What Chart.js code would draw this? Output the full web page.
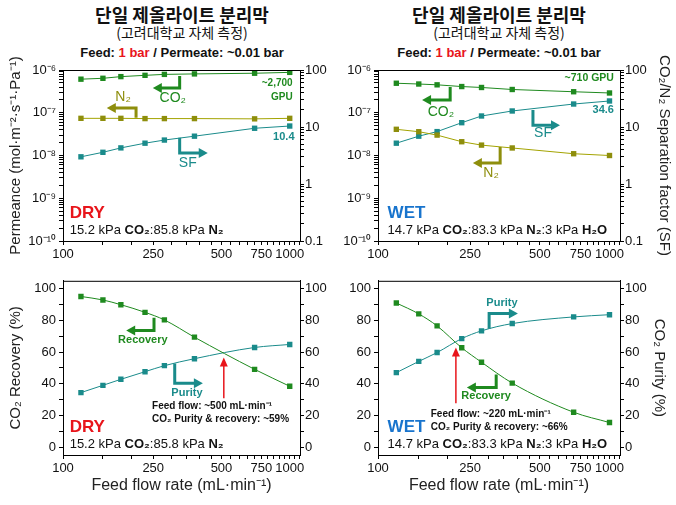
<!DOCTYPE html>
<html>
<head>
<meta charset="utf-8">
<script src="https://cdn.jsdelivr.net/npm/chart.js@4.4.1/dist/chart.umd.min.js"></script>
<style>
  body { margin: 0; background: #fff; }
  #wrap { position: relative; width: 676px; height: 505px; background: #fff; overflow: hidden; }
  canvas { position: absolute; }
  .ttl { position: absolute; width: 300px; text-align: center; color: #111; white-space: nowrap; }
  .kr1 { font: bold 18px "Noto Sans CJK KR", sans-serif; line-height: 20px; top: 4px; }
  .kr2 { font: 14px "Noto Sans CJK KR", sans-serif; line-height: 16px; top: 24px; }
  .feed { font: bold 13px "Liberation Sans", Arial, sans-serif; line-height: 16px; top: 45px; }
  .feed span { color: #e8151b; }
</style>
</head>
<body>
<div id="wrap">
  <div class="ttl kr1" style="left:32px">단일 제올라이트 분리막</div>
  <div class="ttl kr2" style="left:32px">(고려대학교 자체 측정)</div>
  <div class="ttl feed" style="left:32px">Feed: <span>1 bar</span> / Permeate: ~0.01 bar</div>
  <div class="ttl kr1" style="left:349px">단일 제올라이트 분리막</div>
  <div class="ttl kr2" style="left:349px">(고려대학교 자체 측정)</div>
  <div class="ttl feed" style="left:349px">Feed: <span>1 bar</span> / Permeate: ~0.01 bar</div>

  <canvas id="permDry" width="338" height="230" style="left:0;top:40px"></canvas>
  <canvas id="permWet" width="338" height="230" style="left:338px;top:40px"></canvas>
  <canvas id="recDry" width="338" height="235" style="left:0;top:270px"></canvas>
  <canvas id="recWet" width="338" height="235" style="left:338px;top:270px"></canvas>
</div>
<script>
"use strict";

/* feed flow rate (mL/min) */
const flowRate = [120, 150, 180, 230, 280, 380, 700, 1000];

/* permeance (mol m-2 s-1 Pa-1) en separation factor, DRY */
const co2Dry = [6.1e-7, 6.4e-7, 7.0e-7, 7.5e-7, 7.9e-7, 8.1e-7, 8.4e-7, 8.8e-7];
const n2Dry = [7.4e-8, 7.4e-8, 7.4e-8, 7.3e-8, 7.3e-8, 7.3e-8, 7.2e-8, 7.4e-8];
const sfDry = [3.0, 3.6, 4.3, 5.2, 5.9, 6.9, 9.5, 10.4];

/* WET */
const co2Wet = [4.9e-7, 4.7e-7, 4.5e-7, 4.1e-7, 3.9e-7, 3.5e-7, 3.1e-7, 2.9e-7];
const n2Wet = [4.1e-8, 3.6e-8, 3.0e-8, 2.1e-8, 1.75e-8, 1.5e-8, 1.1e-8, 1.0e-8];
const sfWet = [5.2, 6.9, 8.3, 11.9, 15.6, 19.1, 25.3, 28.6];

/* CO2 recovery / purity (%) */
const recoveryDry = [95.1, 92.9, 89.9, 85.1, 80.3, 69.4, 49.1, 38.4];
const purityDry = [34.4, 39.0, 42.8, 47.6, 51.4, 55.8, 62.9, 64.8];
const recoveryWet = [91.0, 84.1, 76.5, 62.7, 53.6, 40.4, 22.0, 15.5];
const purityWet = [47.0, 54.1, 59.7, 68.5, 73.4, 78.0, 82.2, 83.6];

/* tick labels */
const flowLabels = [100, 250, 500, 750, 1000];
const sfLabels = [0.1, 1, 10, 100];
const pctLabels = [0, 20, 40, 60, 80, 100];

/* tick positions (incl. minor ticks) */
const flowTicks = [];
for (let v = 100; v <= 1100; v += 50) flowTicks.push(v);
const permTicks = [];
for (let e = -10; e < -6; e++) for (let m = 1; m < 10; m++) permTicks.push(m * Math.pow(10, e));
permTicks.push(1e-6);
const sfTicks = [];
for (let e = -1; e < 2; e++) for (let m = 1; m < 10; m++) sfTicks.push(m * Math.pow(10, e));
sfTicks.push(100);
const pctTicks = [];
for (let v = 0; v <= 100; v += 10) pctTicks.push(v);

const GREEN = '#1f8a1f';
const OLIVE = '#8e8e0c';
const TEAL = '#1a8b8b';
const RED = '#e8151b';
const BLUE = '#1874cd';

Chart.defaults.font.family = '"Liberation Sans", Arial, sans-serif';
Chart.defaults.color = '#111';

const SUP = { '-': '⁻', '0': '⁰', '1': '¹', '2': '²', '3': '³', '4': '⁴', '5': '⁵', '6': '⁶', '7': '⁷', '8': '⁸', '9': '⁹' };
function pow10Label(v) {
    const e = Math.round(Math.log10(v));
    if (Math.abs(Math.log10(v) - e) > 1e-9) return '';
    return '10' + String(e).split('').map(c => SUP[c]).join('');
}
function near(list, v) {
    return list.some(l => Math.abs(l - v) < 1e-9 * Math.max(1, Math.abs(l)));
}

/* kader rond het plotgebied */
const framePlugin = {
    id: 'frame',
    afterDraw(chart) {
        const a = chart.chartArea;
        const ctx = chart.ctx;
        ctx.save();
        ctx.strokeStyle = '#000';
        ctx.lineWidth = 1;
        ctx.strokeRect(a.left + 0.5, a.top + 0.5, a.right - a.left, a.bottom - a.top);
        ctx.restore();
    }
};

/* pijlen en teksten in het plotgebied, geplaatst in data-coordinaten */
const notesPlugin = {
    id: 'notes',
    afterDatasetsDraw(chart, args, opts) {
        const ctx = chart.ctx;
        const xs = chart.scales.x;
        const ys = chart.scales.y;
        ctx.save();
        (opts.items || []).forEach(n => {
            const px = xs.getPixelForValue(n.x);
            if (n.kind === 'elbow') {
                const y1 = ys.getPixelForValue(n.y1);
                const y2 = ys.getPixelForValue(n.y2);
                const x2 = xs.getPixelForValue(n.x2);
                const dir = x2 > px ? 1 : -1;
                ctx.strokeStyle = n.color;
                ctx.fillStyle = n.color;
                ctx.lineWidth = 3;
                ctx.lineJoin = 'miter';
                ctx.beginPath();
                ctx.moveTo(px, y1);
                ctx.lineTo(px, y2);
                ctx.lineTo(x2 - dir * 8, y2);
                ctx.stroke();
                ctx.beginPath();
                ctx.moveTo(x2, y2);
                ctx.lineTo(x2 - dir * 9, y2 - 5);
                ctx.lineTo(x2 - dir * 9, y2 + 5);
                ctx.closePath();
                ctx.fill();
            } else if (n.kind === 'up') {
                const y1 = ys.getPixelForValue(n.y1);
                const y2 = ys.getPixelForValue(n.y2);
                ctx.strokeStyle = RED;
                ctx.fillStyle = RED;
                ctx.lineWidth = 1.5;
                ctx.beginPath();
                ctx.moveTo(px, y1);
                ctx.lineTo(px, y2 + 7);
                ctx.stroke();
                ctx.beginPath();
                ctx.moveTo(px, y2);
                ctx.lineTo(px - 4, y2 + 9);
                ctx.lineTo(px + 4, y2 + 9);
                ctx.closePath();
                ctx.fill();
            } else {
                const py = ys.getPixelForValue(n.y);
                const runs = n.runs || [[n.text, n.bold]];
                const fontOf = b => (b ? 'bold ' : '') + n.size + 'px "Liberation Sans", Arial, sans-serif';
                let w = 0;
                runs.forEach(r => { ctx.font = fontOf(r[1]); w += ctx.measureText(r[0]).width; });
                let x = n.align === 'right' ? px - w : n.align === 'left' ? px : px - w / 2;
                ctx.fillStyle = n.color;
                ctx.textBaseline = 'middle';
                ctx.textAlign = 'left';
                runs.forEach(r => {
                    ctx.font = fontOf(r[1]);
                    ctx.fillText(r[0], x, py);
                    x += ctx.measureText(r[0]).width;
                });
            }
        });
        ctx.restore();
    }
};

function flowPoints(vals) {
    return flowRate.map((x, i) => ({ x: x, y: vals[i] }));
}

function series(label, vals, color, axis, smooth) {
    return {
        label: label,
        data: flowPoints(vals),
        yAxisID: axis,
        borderColor: color,
        backgroundColor: color,
        borderWidth: 1,
        pointStyle: 'rect',
        pointRadius: 3.8,
        pointBorderWidth: 0,
        tension: smooth ? 0.4 : 0,
        cubicInterpolationMode: smooth ? 'monotone' : 'default'
    };
}

function axisTitle(text, padding) {
    return { display: true, text: text, color: '#222', font: { size: 15 }, padding: padding };
}

function flowAxis(height, title) {
    return {
        type: 'logarithmic',
        min: 100,
        max: 1110,
        afterBuildTicks: s => { s.ticks = flowTicks.map(v => ({ value: v })); },
        afterFit: s => { s.height = height; },
        grid: { drawOnChartArea: false, color: '#000', tickLength: 4 },
        border: { color: '#000' },
        ticks: {
            autoSkip: false, maxRotation: 0, minRotation: 0, padding: 2,
            color: '#111', font: { size: 13 },
            callback: v => flowLabels.includes(v) ? String(v) : ''
        },
        title: title ? { display: true, text: title, color: '#222', font: { size: 16 }, padding: { top: 0, bottom: 10 } } : { display: false }
    };
}

function valueAxis(pos, type, min, max, tickList, labelFn, width, title) {
    return {
        type: type,
        position: pos,
        min: min,
        max: max,
        afterBuildTicks: s => { s.ticks = tickList.map(v => ({ value: v })); },
        afterFit: s => { s.width = width; },
        grid: { drawOnChartArea: false, color: '#000', tickLength: 4 },
        border: { color: '#000' },
        ticks: { autoSkip: false, padding: pos === 'left' ? 3 : 1, color: '#111', font: { size: 13 }, callback: labelFn },
        title: title || { display: false }
    };
}

const permLabel = v => pow10Label(v);
const sfLabel = v => near(sfLabels, v) ? String(v) : '';
const pctLabel = v => pctLabels.includes(v) ? String(v) : '';

function makePanel(id, datasets, scales, notes, padTop) {
    new Chart(document.getElementById(id), {
        type: 'line',
        data: { datasets: datasets },
        options: {
            responsive: false,
            animation: false,
            devicePixelRatio: 1,
            layout: { padding: { top: padTop, left: 0, right: 0, bottom: 0 } },
            scales: scales,
            plugins: { legend: { display: false }, tooltip: { enabled: false }, notes: { items: notes } }
        },
        plugins: [framePlugin, notesPlugin]
    });
}

const compDry = [['15.2 kPa ', false], ['CO₂', true], [':85.8 kPa ', false], ['N₂', true]];
const compWet = [['14.7 kPa ', false], ['CO₂', true], [':83.3 kPa ', false], ['N₂', true], [':3 kPa ', false], ['H₂O', true]];
const purityDryNote = [['CO₂ Purity & recovery: ~59%', true]];
const purityWetNote = [['CO₂ Purity & recovery: ~66%', true]];

/* permeance DRY */
makePanel('permDry', [
    series('CO2', co2Dry, GREEN, 'y', false),
    Object.assign(series('N2', n2Dry, OLIVE, 'y', false), { borderColor: '#a3a300' }),
    series('SF', sfDry, TEAL, 'y2', false)
], {
    x: flowAxis(29),
    y: valueAxis('left', 'logarithmic', 1e-10, 1e-6, permTicks, permLabel, 63, axisTitle('Permeance (mol·m⁻²·s⁻¹·Pa⁻¹)', { top: 7, bottom: 0 })),
    y2: valueAxis('right', 'logarithmic', 0.1, 100, sfTicks, sfLabel, 38)
}, [
    { kind: 'elbow', x: 327, y1: 7.2e-7, y2: 3.8e-7, x2: 249, color: GREEN },
    { x: 305, y: 2.2e-7, text: 'CO₂', size: 14, color: GREEN },
    { kind: 'elbow', x: 210, y1: 7.6e-8, y2: 1.3e-7, x2: 156, color: OLIVE },
    { x: 184, y: 2.3e-7, text: 'N₂', size: 14, color: OLIVE },
    { kind: 'elbow', x: 327, y1: 2.6e-8, y2: 1.15e-8, x2: 435, color: TEAL },
    { x: 355, y: 6.7e-9, text: 'SF', size: 14, color: TEAL },
    { x: 1030, y: 5e-7, text: '~2,700', bold: true, size: 10, color: GREEN, align: 'right' },
    { x: 1030, y: 2.3e-7, text: 'GPU', bold: true, size: 10, color: GREEN, align: 'right' },
    { x: 1050, y: 2.7e-8, text: '10.4', bold: true, size: 11, color: TEAL, align: 'right' },
    { x: 107, y: 4.5e-10, text: 'DRY', bold: true, size: 17, color: RED, align: 'left' },
    { x: 107, y: 1.8e-10, runs: compDry, size: 13, color: '#111', align: 'left' }
], 30);

/* permeance WET */
makePanel('permWet', [
    series('CO2', co2Wet, GREEN, 'y', false),
    Object.assign(series('N2', n2Wet, OLIVE, 'y', false), { borderColor: '#a3a300' }),
    series('SF', sfWet, TEAL, 'y2', false)
], {
    x: flowAxis(29),
    y: valueAxis('left', 'logarithmic', 1e-10, 1e-6, permTicks, permLabel, 40),
    y2: valueAxis('right', 'logarithmic', 0.1, 100, sfTicks, sfLabel, 56, axisTitle('CO₂/N₂ Separation factor (SF)', { top: 3, bottom: 0 }))
}, [
    { kind: 'elbow', x: 205, y1: 4.0e-7, y2: 2.0e-7, x2: 155, color: GREEN },
    { x: 187, y: 1.05e-7, text: 'CO₂', size: 14, color: GREEN },
    { kind: 'elbow', x: 467, y1: 1.16e-7, y2: 5.1e-8, x2: 611, color: TEAL },
    { x: 516, y: 3.4e-8, text: 'SF', size: 14, color: TEAL },
    { kind: 'elbow', x: 337, y1: 1.58e-8, y2: 6.7e-9, x2: 257, color: OLIVE },
    { x: 308, y: 3.9e-9, text: 'N₂', size: 14, color: OLIVE },
    { x: 1045, y: 6.5e-7, text: '~710 GPU', bold: true, size: 10.5, color: GREEN, align: 'right' },
    { x: 1045, y: 1.16e-7, text: '34.6', bold: true, size: 11, color: TEAL, align: 'right' },
    { x: 110, y: 4.5e-10, text: 'WET', bold: true, size: 17, color: BLUE, align: 'left' },
    { x: 110, y: 1.8e-10, runs: compWet, size: 13, color: '#111', align: 'left' }
], 30);

/* recovery / purity DRY */
makePanel('recDry', [
    series('Recovery', recoveryDry, GREEN, 'y', true),
    series('Purity', purityDry, TEAL, 'y2', true)
], {
    x: flowAxis(50, 'Feed flow rate (mL·min⁻¹)'),
    y: valueAxis('left', 'linear', -5, 105, pctTicks, pctLabel, 63, axisTitle('CO₂ Recovery (%)', { top: 7, bottom: 0 })),
    y2: valueAxis('right', 'linear', -5, 105, pctTicks, pctLabel, 38)
}, [
    { kind: 'elbow', x: 252, y1: 81.7, y2: 73.6, x2: 190, color: GREEN },
    { x: 225, y: 67.9, text: 'Recovery', bold: true, size: 11, color: GREEN },
    { kind: 'elbow', x: 311, y1: 52.8, y2: 40.3, x2: 414, color: TEAL },
    { x: 352, y: 34.0, text: 'Purity', bold: true, size: 11, color: TEAL },
    { kind: 'up', x: 512, y1: 30.8, y2: 56.6 },
    { x: 247, y: 25.8, text: 'Feed flow: ~500 mL·min⁻¹', bold: true, size: 10, color: '#111', align: 'left' },
    { x: 247, y: 17.6, runs: purityDryNote, size: 10, color: '#111', align: 'left' },
    { x: 107, y: 12.6, text: 'DRY', bold: true, size: 17, color: RED, align: 'left' },
    { x: 107, y: 1.9, runs: compDry, size: 13, color: '#111', align: 'left' }
], 10);

/* recovery / purity WET */
makePanel('recWet', [
    series('Recovery', recoveryWet, GREEN, 'y', true),
    series('Purity', purityWet, TEAL, 'y2', true)
], {
    x: flowAxis(50, 'Feed flow rate (mL·min⁻¹)'),
    y: valueAxis('left', 'linear', -5, 105, pctTicks, pctLabel, 40),
    y2: valueAxis('right', 'linear', -5, 105, pctTicks, pctLabel, 56, axisTitle('CO₂ Purity (%)', { top: 8, bottom: 0 }))
}, [
    { kind: 'elbow', x: 302, y1: 74.8, y2: 84.3, x2: 402, color: TEAL },
    { x: 343, y: 91.2, text: 'Purity', bold: true, size: 11, color: TEAL },
    { kind: 'elbow', x: 324, y1: 45.9, y2: 37.7, x2: 242, color: GREEN },
    { x: 293, y: 32.1, text: 'Recovery', bold: true, size: 11, color: GREEN },
    { kind: 'up', x: 217, y1: 27.7, y2: 62.9 },
    { x: 169, y: 20.8, text: 'Feed flow: ~220 mL·min⁻¹', bold: true, size: 10, color: '#111', align: 'left' },
    { x: 169, y: 12.6, runs: purityWetNote, size: 10, color: '#111', align: 'left' },
    { x: 110, y: 12.6, text: 'WET', bold: true, size: 17, color: BLUE, align: 'left' },
    { x: 110, y: 1.9, runs: compWet, size: 13, color: '#111', align: 'left' }
], 10);
</script>
</body>
</html>
